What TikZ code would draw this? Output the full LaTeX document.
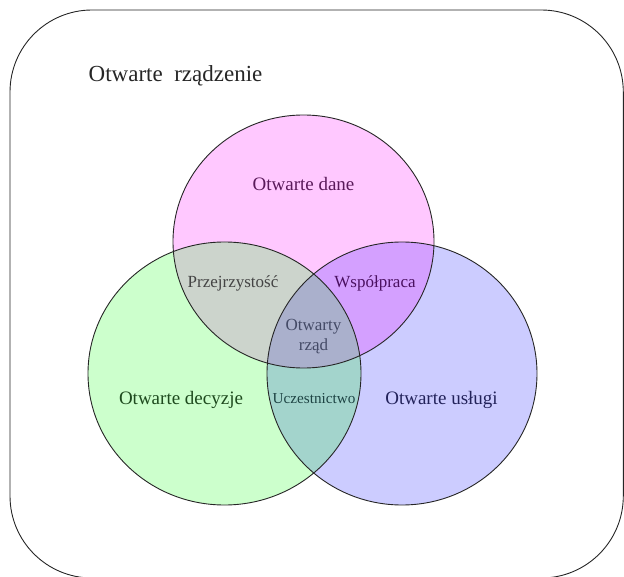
\documentclass[tikz,border=0pt]{standalone}
\usepackage{fontspec}
\setmainfont{Liberation Serif}
\definecolor{pinkf}{HTML}{FFC8FF}
\definecolor{greenf}{HTML}{CCFFCC}
\definecolor{bluef}{HTML}{CCCCFF}
\definecolor{pgf}{HTML}{CCD4CC}
\definecolor{pbf}{HTML}{D4A0FF}
\definecolor{gbf}{HTML}{A3D4CC}
\definecolor{allf}{HTML}{AAB0CC}
\definecolor{tdane}{HTML}{5A1A5A}
\definecolor{tdec}{HTML}{1E4A1E}
\definecolor{tusl}{HTML}{22225A}
\definecolor{tprz}{HTML}{444444}
\definecolor{twsp}{HTML}{4A1060}
\definecolor{trzad}{HTML}{444A66}
\definecolor{tucz}{HTML}{1E4444}
\tikzset{
  outline/.style={draw=black!85, line width=0.9pt},
  lbl/.style={inner sep=0pt, font=\fontsize{19}{21}\selectfont},
  slbl/.style={inner sep=0pt, font=\fontsize{17}{20}\selectfont},
}
\begin{document}
\begin{tikzpicture}[x=1pt,y=-1pt]
\useasboundingbox (0,0) rectangle (624,577);
% outer rounded frame
\draw[outline, rounded corners=82pt] (10,10) rectangle (623.3,578);
\node[anchor=base west, inner sep=0pt, font=\fontsize{23}{25}\selectfont, text=black!85] (title) at (88.5,82) {Otwarte\ \ rządzenie};
% circles
\def\topc{(303.5,241.5) ellipse [x radius=130.5, y radius=126.5]}
\def\leftc{(224.5,373.5) ellipse [x radius=136.5, y radius=131.5]}
\def\rightc{(402,373.5) ellipse [x radius=135, y radius=131.5]}
\fill[pinkf] \topc;
\fill[greenf] \leftc;
\fill[bluef] \rightc;
\begin{scope}
  \clip \topc;
  \fill[pgf] \leftc;
  \fill[pbf] \rightc;
\end{scope}
\begin{scope}
  \clip \leftc;
  \fill[gbf] \rightc;
\end{scope}
\begin{scope}
  \clip \topc;
  \clip \leftc;
  \fill[allf] \rightc;
\end{scope}
\draw[outline] \topc;
\draw[outline] \leftc;
\draw[outline] \rightc;
% labels
\node[lbl, text=tdane] (dane) at (303.5,184) {Otwarte dane};
\node[lbl, text=tdec] (dec) at (181,400) {Otwarte decyzje};
\node[lbl, text=tusl] (usl) at (441.5,400) {Otwarte usługi};
\node[slbl, text=tprz] (prz) at (233,283) {Przejrzystość};
\node[slbl, text=twsp] (wsp) at (375,283) {Współpraca};
\node[slbl, text=trzad, align=center, font=\fontsize{17}{20}\selectfont] (rzad) at (313.5,337) {Otwarty\\rząd};
\node[inner sep=0pt, font=\fontsize{15.2}{18}\selectfont, text=tucz] (ucz) at (314,398.5) {Uczestnictwo};
\end{tikzpicture}
\end{document}
